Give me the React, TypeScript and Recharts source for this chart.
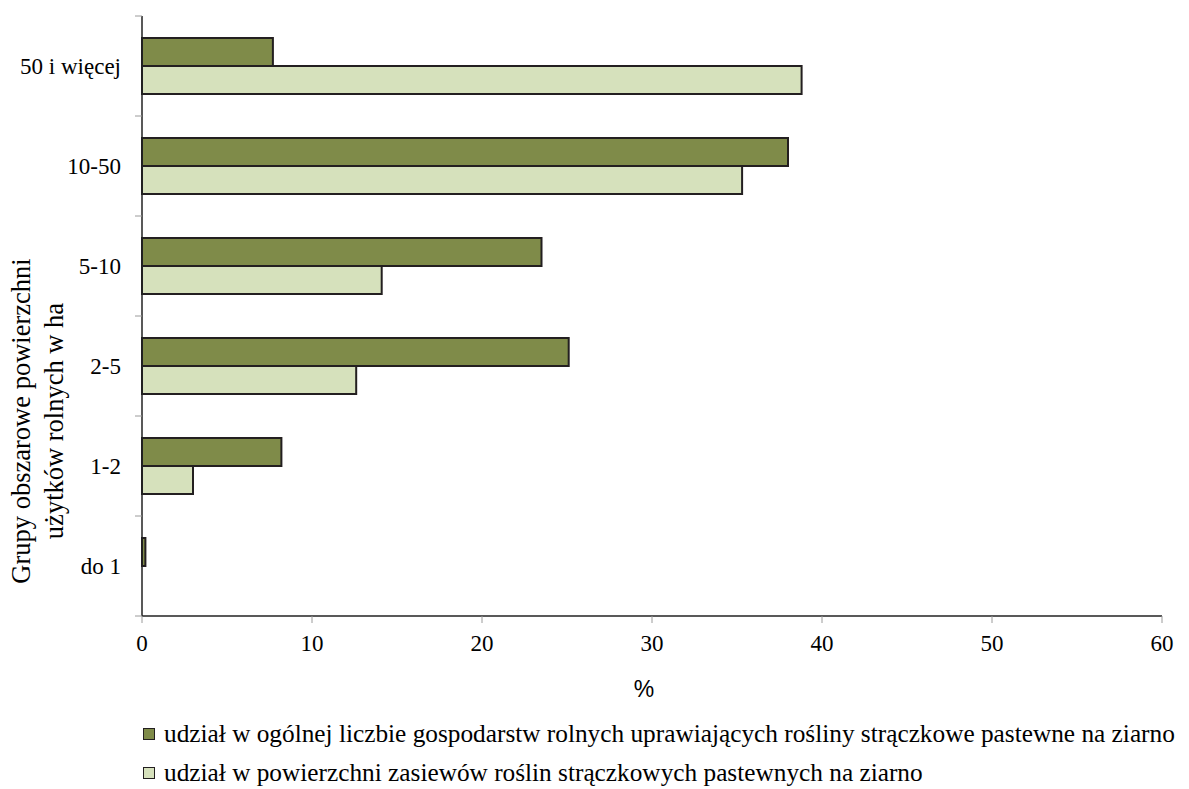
import React from 'react';
import { BarChart, Bar, XAxis, YAxis } from 'recharts';

const categories = ['50 i więcej', '10-50', '5-10', '2-5', '1-2', 'do 1'];
const farmsShare = [7.7, 38.0, 23.5, 25.1, 8.2, 0.2];
const areaShare = [38.8, 35.3, 14.1, 12.6, 3.0, 0];
const xTicks = [0, 10, 20, 30, 40, 50, 60];
const seriesNames = [
  'udział w ogólnej liczbie gospodarstw rolnych uprawiających rośliny strączkowe pastewne na ziarno',
  'udział w powierzchni zasiewów roślin strączkowych pastewnych na ziarno',
];
const yTitleLines = ['Grupy obszarowe powierzchni', 'użytków rolnych w ha'];
const xTitle = '%';

const data = categories.map((c, i) => ({ cat: c, farms: farmsShare[i], area: areaShare[i] }));

const W = 1189;
const H = 789;
const TOP = 16;
const PLOT_BOTTOM = 616;
const AXIS_X = 142;
const BAND = (PLOT_BOTTOM - TOP) / categories.length;
const SERIF = '"Liberation Serif", "Times New Roman", "DejaVu Serif", serif';
const SANS = '"Liberation Sans", Arial, sans-serif';
const COLORS = ['#7f8b49', '#d6e1bc'];
const STROKE = '#231f20';

function YTick(props: any) {
  const { x, y, payload, index } = props;
  const lines = [y - BAND / 2];
  if (index === categories.length - 1) lines.push(y + BAND / 2);
  return (
    <g>
      {lines.map((ly, i) => (
        <line key={i} x1={AXIS_X - 7} x2={AXIS_X} y1={ly} y2={ly} stroke="#9a9a9a" strokeWidth={1} />
      ))}
      <text x={x} y={y} dy="0.35em" textAnchor="end" fontFamily={SERIF} fontSize={23} fill="#000">
        {payload.value}
      </text>
    </g>
  );
}

function YTitle() {
  const cy = 421;
  const xs = [30, 63];
  return (
    <g>
      {yTitleLines.map((t, i) => (
        <text
          key={i}
          x={xs[i]}
          y={cy}
          transform={`rotate(-90, ${xs[i]}, ${cy})`}
          textAnchor="middle"
          fontFamily={SERIF}
          fontSize={26.5}
          fill="#000"
        >
          {t}
        </text>
      ))}
    </g>
  );
}

function XTitle() {
  return (
    <text x={644} y={697} textAnchor="middle" fontFamily={SANS} fontSize={23} fill="#000">
      {xTitle}
    </text>
  );
}

export default function App() {
  return (
    <div style={{ position: 'absolute', left: 0, top: 0, width: W, height: H, background: '#fff' }}>
      <BarChart
        width={W}
        height={H}
        data={data}
        layout="vertical"
        margin={{ top: TOP, right: 27, bottom: 113, left: 0 }}
        barGap={0}
        barSize={28}
      >
        <XAxis
          type="number"
          domain={[0, 60]}
          ticks={xTicks}
          height={60}
          tickSize={7}
          tickMargin={12}
          axisLine={{ stroke: '#222', strokeWidth: 1.5 }}
          tickLine={{ stroke: '#9a9a9a' }}
          tick={{ fill: '#000', fontFamily: SERIF, fontSize: 23 }}
          label={{ content: () => <XTitle /> }}
        />
        <YAxis
          type="category"
          dataKey="cat"
          width={AXIS_X}
          tickSize={7}
          tickMargin={14}
          tickLine={false}
          axisLine={{ stroke: '#222', strokeWidth: 1.5 }}
          tick={<YTick />}
          interval={0}
          label={{ content: () => <YTitle /> }}
        />
        <Bar dataKey="farms" fill={COLORS[0]} stroke={STROKE} strokeWidth={2} isAnimationActive={false} />
        <Bar dataKey="area" fill={COLORS[1]} stroke={STROKE} strokeWidth={2} isAnimationActive={false} />
      </BarChart>
      <div style={{ position: 'absolute', left: 143, top: 714, fontFamily: SERIF, fontSize: 25.3, color: '#000' }}>
        {seriesNames.map((n, i) => (
          <div key={i} style={{ display: 'flex', alignItems: 'center', height: 39, whiteSpace: 'nowrap' }}>
            <span
              style={{
                display: 'inline-block',
                width: 10,
                height: 10,
                border: `1.5px solid ${STROKE}`,
                background: COLORS[i],
                marginRight: 9,
                flexShrink: 0,
              }}
            />
            {n}
          </div>
        ))}
      </div>
    </div>
  );
}
